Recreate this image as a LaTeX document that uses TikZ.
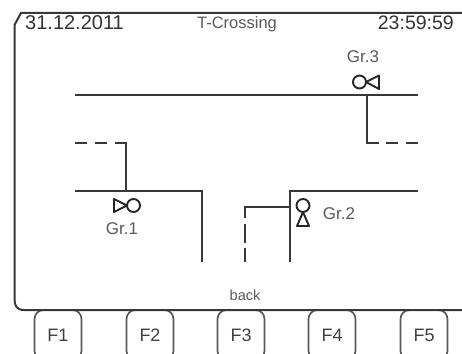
\documentclass[tikz,border=0pt]{standalone}
\usepackage{fontspec}
\setmainfont{Liberation Sans}
\tikzset{
  pipe/.style={line width=2pt,draw=black!78},
  pipedash/.style={pipe,dash pattern=on 12pt off 8pt},
  valve/.style={line width=1.9pt,draw=black!85,line join=round},
  fkey/.style={draw=black!65,line width=1.7pt,rounded corners=9pt,minimum width=47pt,minimum height=50pt,inner sep=0pt,text=black!75,font=\fontsize{18}{18}\selectfont},
  label/.style={inner sep=0pt,text=black!65,font=\fontsize{17}{17}\selectfont}
}
\begin{document}
\begin{tikzpicture}[x=1pt,y=-1pt]
\useasboundingbox (0,0) rectangle (462,353);

% function keys
\node [fkey] (f1) at (58,335) {F1};
\node [fkey] (f2) at (150,335) {F2};
\node [fkey] (f3) at (241,335) {F3};
\node [fkey] (f4) at (332,335) {F4};
\node [fkey] (f5) at (424,335) {F5};

% screen frame
\draw [pipe] (462,13) -- (21,13) -- (14.5,25) -- (14.5,299) .. controls (14.5,306) and (17,310) .. (24,310) -- (462,310);

% header
\node [inner sep=0pt,anchor=west,text=black!80,font=\fontsize{20}{20}\selectfont] (date) at (25,23) {31.12.2011};
\node [inner sep=0pt,anchor=east,text=black!80,font=\fontsize{19.5}{19.5}\selectfont] (time) at (454,23) {23:59:59};
\node [label,font=\fontsize{16.5}{16.5}\selectfont] (title) at (237,24) {T-Crossing};
\node [label,font=\fontsize{14.5}{14.5}\selectfont] (back) at (245,295) {back};

% pipes
\draw [pipe] (75,95) -- (418,95);
\draw [pipe] (367,95) -- (367,143) -- (379,143);
\draw [pipedash] (386,143) -- (418,143);
\draw [pipedash] (75,143) -- (107,143);
\draw [pipe] (115,143) -- (126,143) -- (126,191);
\draw [pipe] (75,191) -- (202,191) -- (202,262);
\draw [pipe] (290,262) -- (290,191) -- (418,191);
\draw [pipe] (290,207) -- (245,207) -- (245,218);
\draw [pipe] (245,224) -- (245,243);
\draw [pipe] (245,248) -- (245,262);

% valves
\draw [valve] (133.5,205.5) circle (6.5);
\draw [valve] (127,205.5) -- (114,199) -- (114,212) -- cycle;
\node [label] (gr1) at (122,229) {Gr.1};

\draw [valve] (303,205.5) circle (6.5);
\draw [valve] (303,212) -- (297,226) -- (309,226) -- cycle;
\node [label] (gr2) at (339,214) {Gr.2};

\draw [valve] (359.5,82) circle (6.5);
\draw [valve] (366,82) -- (379,75.5) -- (379,89) -- cycle;
\node [label] (gr3) at (363,57) {Gr.3};

\end{tikzpicture}
\end{document}
